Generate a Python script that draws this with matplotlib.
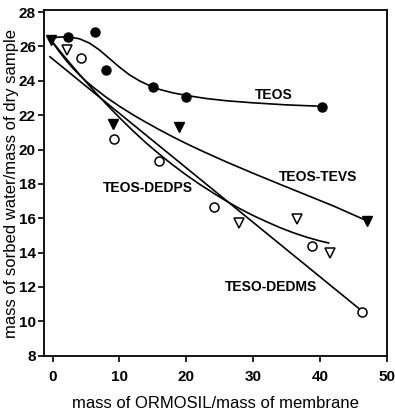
import numpy as np
import matplotlib
matplotlib.use('Agg')
import matplotlib.pyplot as plt

plt.rcParams['font.family'] = ['Liberation Sans', 'DejaVu Sans']

# measured points
teos_x = [2.35, 6.4, 8.0, 15.0, 19.9, 40.3]
teos_y = [26.55, 26.87, 24.64, 23.65, 23.05, 22.47]

tevs_x = [-0.2, 9.0, 18.95, 47.0]
tevs_y = [26.35, 21.5, 21.34, 15.86]

dedps_x = [2.1, 27.85, 36.6, 41.5]
dedps_y = [25.8, 15.71, 15.96, 13.96]

dedms_x = [4.25, 9.25, 15.85, 24.1, 38.75, 46.35]
dedms_y = [25.3, 20.6, 19.36, 16.64, 14.4, 10.56]

# fitted curves
teos_fit_x = [-0.5, 1.0, 2.5, 4.0, 5.5, 7.0, 8.5, 10.0, 11.5, 13.0, 14.5, 16.0,
              18.0, 20.0, 23.0, 26.0, 30.0, 35.0, 40.1]
teos_fit_y = [26.45, 26.55, 26.55, 26.45, 26.2, 25.8, 25.3, 24.8, 24.35, 24.0, 23.72, 23.5,
              23.3, 23.15, 22.97, 22.84, 22.72, 22.6, 22.52]

tevs_fit_x = [-0.3, 1.0, 2.0, 3.0, 4.0, 5.0, 6.0, 8.0, 10.0, 12.0, 14.0, 16.0, 18.0, 20.0,
              22.0, 26.0, 30.0, 34.0, 38.0, 42.0, 47.0]
tevs_fit_y = [26.4, 25.7, 25.2, 24.75, 24.35, 23.98, 23.65, 23.05, 22.52, 22.03, 21.58, 21.15,
              20.74, 20.35, 19.98, 19.28, 18.62, 17.98, 17.35, 16.72, 15.86]

dedps_fit_x = [-0.3, 2.0, 4.0, 6.0, 8.0, 10.0, 12.0, 14.0, 16.0, 18.0, 20.0, 22.0,
               24.0, 26.0, 28.0, 30.0, 32.0, 34.0, 36.0, 38.0, 40.0, 41.3]
dedps_fit_y = [26.4, 25.3, 24.38, 23.5, 22.66, 21.86, 21.1, 20.38, 19.72, 19.1, 18.52, 17.98,
               17.48, 17.0, 16.56, 16.16, 15.8, 15.46, 15.16, 14.9, 14.68, 14.56]

dedms_fit_x = [-0.4, 46.3]
dedms_fit_y = [25.4, 10.6]

fig = plt.figure(figsize=(3.95, 4.16), dpi=100)
ax = fig.add_axes([0.112, 0.145, 0.867, 0.83])

lw = 1.2
for fx, fy in [(teos_fit_x, teos_fit_y), (tevs_fit_x, tevs_fit_y),
               (dedps_fit_x, dedps_fit_y), (dedms_fit_x, dedms_fit_y)]:
    ax.plot(fx, fy, color='black', lw=lw, solid_joinstyle='round')

ax.plot(teos_x, teos_y, 'o', color='black', ms=6.5, clip_on=False)
ax.plot(tevs_x, tevs_y, 'v', color='black', ms=6.5, clip_on=False)
ax.plot(dedps_x, dedps_y, 'v', mfc='white', mec='black', mew=1.1, ms=6.5, clip_on=False)
ax.plot(dedms_x, dedms_y, 'o', mfc='white', mec='black', mew=1.1, ms=6.5, clip_on=False)

ax.text(33.1, 23.18, 'TEOS', ha='center', va='center', fontsize=10, fontweight='bold')
ax.text(39.8, 18.43, 'TEOS-TEVS', ha='center', va='center', fontsize=10, fontweight='bold')
ax.text(14.2, 17.75, 'TEOS-DEDPS', ha='center', va='center', fontsize=10, fontweight='bold')
ax.text(32.7, 11.98, 'TESO-DEDMS', ha='center', va='center', fontsize=10, fontweight='bold')

ax.set_xlim(-1.25, 50)
ax.set_ylim(8, 28.1)
ax.set_xticks([0, 10, 20, 30, 40, 50])
ax.set_yticks([8, 10, 12, 14, 16, 18, 20, 22, 24, 26, 28])
ax.tick_params(direction='out', length=4, width=1.2, labelsize=11)
for lab in ax.get_xticklabels() + ax.get_yticklabels():
    lab.set_fontweight('bold')
ax.tick_params(axis='x', pad=6)
ax.tick_params(axis='y', pad=2)
for s in ax.spines.values():
    s.set_linewidth(1.3)

ax.set_xlabel('mass of ORMOSIL/mass of membrane', fontsize=12, labelpad=9)
ax.set_ylabel('mass of sorbed water/mass of dry sample', fontsize=12)
ax.yaxis.set_label_coords(-0.075, 0.5)

fig.savefig('out.png', dpi=100)
